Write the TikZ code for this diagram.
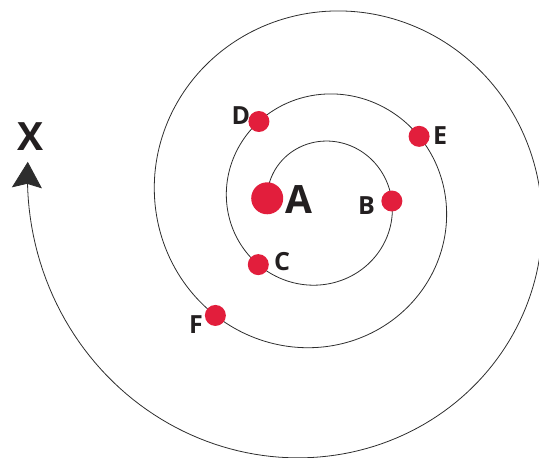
\documentclass[tikz,border=0pt]{standalone}
\usepackage{fontspec}
\setmainfont{Open Sans}
\usetikzlibrary{arrows.meta}
\definecolor{dotred}{RGB}{226,30,60}
\definecolor{linegray}{RGB}{45,45,45}
\definecolor{txt}{RGB}{35,31,32}
\begin{document}
\begin{tikzpicture}[x=1pt,y=1pt,
  declare function={sr(\t)=61.7*exp(0.001569*(90-\t)); sx(\t)=321+sr(\t)*cos(\t); sy(\t)=255+sr(\t)*sin(\t);},
  spiral/.style={draw=linegray, line width=0.8pt},
  dot/.style={circle, fill=dotred, inner sep=0pt, minimum size=21pt},
  bigdot/.style={dot, minimum size=32pt},
  lbl/.style={inner sep=0pt, text=txt, font=\fontsize{25}{25}\selectfont\bfseries},
  biglbl/.style={lbl, font=\fontsize{39}{39}\selectfont\bfseries}]
\useasboundingbox (0,0) rectangle (539,458);
% spiral
\draw[spiral, -{Stealth[length=26pt,width=30pt,inset=4pt]}]
  plot[domain=175:-908, samples=600, variable=\t] ({sx(\t)},{sy(\t)});
% dots on the spiral
\node[bigdot] (A) at ({sx(175)},{sy(175)}) {};
\node[dot] (B) at ({sx(1.6)},{sy(1.6)}) {};
\node[dot] (C) at ({sx(-135.5)},{sy(-135.5)}) {};
\node[dot] (D) at ({sx(-232.7)},{sy(-232.7)}) {};
\node[dot] (E) at ({sx(-325.8)},{sy(-325.8)}) {};
\node[dot] (F) at ({sx(-493.2)},{sy(-493.2)}) {};
% labels
\node[biglbl] (lA) at (299,258) {A};
\node[lbl] (lB) at (366.5,252.5) {B};
\node[lbl] (lC) at (282,196) {C};
\node[lbl] (lD) at (241,342.5) {D};
\node[lbl] (lE) at (440,322) {E};
\node[lbl] (lF) at (196,133) {F};
\node[biglbl] (lX) at (30.5,321) {X};
\end{tikzpicture}
\end{document}
